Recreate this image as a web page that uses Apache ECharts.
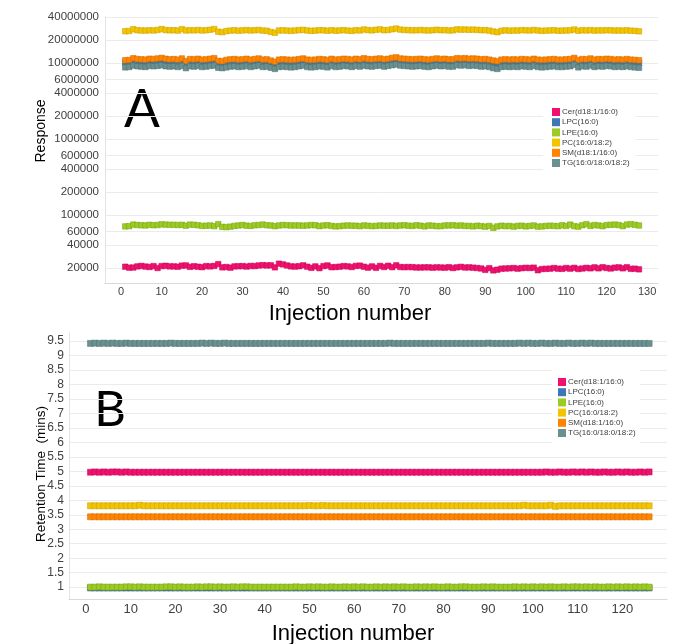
<!DOCTYPE html>
<html>
<head>
<meta charset="utf-8">
<script src="https://cdn.jsdelivr.net/npm/echarts@6/dist/echarts.min.js"></script>
<style>html,body{margin:0;padding:0;background:#fff}#c{width:680px;height:644px}</style>
</head>
<body>
<div id="c"></div>
<script>
// ---------- DATA ----------
var seriesNames = ['Cer(d18:1/16:0)', 'LPC(16:0)', 'LPE(16:0)', 'PC(16:0/18:2)', 'SM(d18:1/16:0)', 'TG(16:0/18:0/18:2)'];

// Panel A: response (log scale), injections 1..128
var respCer = [20800,20200,20300,21000,21300,20900,20600,21200,20000,21200,
21400,21000,21000,20800,21500,21600,20700,21100,20800,20500,
21200,21000,21300,22500,20400,20600,20200,21000,21100,21200,
20900,21300,21200,21600,21800,21600,21700,20400,22800,22300,
21600,21000,20900,21100,21700,20800,20100,21000,19900,21200,
21600,20500,20600,20800,21200,21000,20600,21300,21500,20800,
20200,21000,20100,21300,20600,21400,20500,21700,20600,20500,
20600,20500,20300,20300,20400,20400,20200,20400,20300,20200,
20500,20000,20400,20700,20300,20400,20200,20000,19700,18900,
19900,18600,19000,19600,19700,19800,20000,19600,19900,20100,
20000,20200,18700,19400,19500,19600,20000,19600,19500,20000,
19600,20100,19400,19700,20100,19800,20400,19800,20500,20000,
19700,20200,20400,19800,20500,19500,19600,19200];
var respLPC = [10.0e6,10.1e6,10.6e6,10.3e6,10.2e6,10.1e6,10.4e6,10.3e6,10.5e6,10.7e6,
10.4e6,10.2e6,10.3e6,10.1e6,10.5e6,9.7e6,10.3e6,10.2e6,10.4e6,10.1e6,
10.2e6,10.4e6,10.6e6,9.8e6,9.7e6,10.0e6,10.2e6,10.3e6,10.1e6,10.2e6,
10.4e6,10.1e6,10.3e6,10.5e6,10.1e6,10.2e6,9.9e6,9.5e6,10.1e6,10.2e6,
10.1e6,10.0e6,10.1e6,10.3e6,10.5e6,10.1e6,10.0e6,10.1e6,10.3e6,10.2e6,
10.0e6,10.4e6,10.1e6,10.2e6,10.4e6,10.3e6,10.1e6,10.4e6,10.2e6,10.6e6,
10.3e6,10.2e6,10.4e6,10.5e6,10.2e6,10.4e6,10.7e6,10.9e6,10.5e6,10.4e6,
10.3e6,10.2e6,10.3e6,10.4e6,10.2e6,10.1e6,10.3e6,10.5e6,10.3e6,10.4e6,
10.2e6,10.2e6,10.6e6,10.5e6,10.6e6,10.4e6,10.5e6,10.4e6,10.2e6,10.3e6,
10.1e6,9.8e6,9.6e6,10.1e6,10.2e6,10.1e6,10.2e6,10.1e6,10.3e6,10.2e6,
10.1e6,10.4e6,10.1e6,10.0e6,10.1e6,10.2e6,10.3e6,10.1e6,10.1e6,10.2e6,
10.3e6,10.7e6,10.0e6,10.3e6,10.2e6,10.5e6,10.1e6,10.3e6,10.2e6,10.4e6,
10.3e6,10.1e6,10.2e6,10.1e6,10.3e6,10.1e6,10.0e6,9.9e6];
var respLPE = [70500,71000,74500,73500,73000,72500,74000,73000,73500,75000,
74500,74000,74000,73500,74000,72000,74500,74000,73000,71500,
72000,72500,71000,75500,69500,69000,70000,71500,72500,73500,
72000,71500,73000,73500,74500,73000,72500,71000,72500,73500,
73000,72500,72500,72500,72000,72500,73500,73000,71000,72500,
73000,71500,70500,71000,72000,72500,72000,72000,71000,72500,
72000,71000,71500,72500,72000,72000,72500,71500,72500,73000,
72000,71500,73000,72000,70500,72500,72000,71000,71000,72500,
72500,73000,72000,72500,71500,71500,70500,72000,71000,70000,
71500,67500,70500,72000,71000,71500,70000,71500,72000,70500,
71500,72500,70000,70500,71500,72000,71500,71000,73000,71500,
74500,71000,70000,73000,75500,71500,73500,72500,71000,73500,
74000,74500,73500,71000,74500,75500,74000,72500];
var respPC = [26.0e6,26.2e6,27.6e6,26.8e6,26.6e6,26.5e6,26.8e6,26.6e6,27.0e6,27.8e6,
26.9e6,26.7e6,26.8e6,26.5e6,27.7e6,26.6e6,26.8e6,26.7e6,27.0e6,26.6e6,
26.8e6,27.2e6,27.8e6,25.6e6,25.3e6,26.1e6,26.5e6,26.8e6,26.4e6,26.7e6,
26.9e6,26.6e6,26.8e6,27.0e6,26.5e6,26.4e6,25.4e6,24.8e6,26.6e6,26.7e6,
26.5e6,26.3e6,26.6e6,26.9e6,27.1e6,26.6e6,26.3e6,26.5e6,26.8e6,26.7e6,
26.4e6,26.8e6,26.4e6,26.6e6,26.9e6,26.5e6,26.3e6,26.8e6,26.6e6,27.4e6,
26.9e6,26.7e6,27.2e6,27.5e6,26.8e6,27.0e6,27.6e6,28.2e6,27.3e6,27.0e6,
26.9e6,26.7e6,26.8e6,27.0e6,26.7e6,26.6e6,26.8e6,27.2e6,26.8e6,26.9e6,
26.6e6,26.7e6,27.5e6,27.3e6,27.4e6,27.2e6,27.3e6,27.1e6,26.8e6,26.9e6,
26.5e6,25.8e6,25.2e6,26.4e6,26.7e6,26.4e6,26.6e6,26.5e6,26.9e6,26.7e6,
26.6e6,27.0e6,26.6e6,26.3e6,26.5e6,26.6e6,26.8e6,26.4e6,26.5e6,26.6e6,
26.7e6,27.4e6,26.4e6,26.8e6,26.6e6,26.9e6,26.5e6,26.7e6,26.6e6,26.8e6,
26.7e6,26.5e6,26.6e6,26.5e6,26.7e6,26.4e6,26.3e6,25.9e6];
var respSM = [10.8e6,10.9e6,11.5e6,11.2e6,11.1e6,11.0e6,11.3e6,11.2e6,11.4e6,11.6e6,
11.3e6,11.1e6,11.2e6,11.0e6,11.4e6,10.5e6,11.2e6,11.1e6,11.3e6,11.0e6,
11.1e6,11.3e6,11.5e6,10.6e6,10.5e6,10.9e6,11.1e6,11.2e6,11.0e6,11.1e6,
11.3e6,11.0e6,11.2e6,11.4e6,11.0e6,11.1e6,10.7e6,10.3e6,11.0e6,11.1e6,
11.0e6,10.9e6,11.0e6,11.2e6,11.4e6,11.0e6,10.9e6,11.0e6,11.2e6,11.1e6,
10.9e6,11.3e6,11.0e6,11.1e6,11.3e6,11.2e6,11.0e6,11.3e6,11.1e6,11.5e6,
11.2e6,11.1e6,11.3e6,11.4e6,11.1e6,11.3e6,11.6e6,11.8e6,11.4e6,11.3e6,
11.2e6,11.1e6,11.2e6,11.3e6,11.1e6,11.0e6,11.2e6,11.4e6,11.2e6,11.3e6,
11.1e6,11.1e6,11.5e6,11.4e6,11.5e6,11.3e6,11.4e6,11.3e6,11.1e6,11.2e6,
11.0e6,10.7e6,10.5e6,11.0e6,11.1e6,11.0e6,11.1e6,11.0e6,11.2e6,11.1e6,
11.0e6,11.3e6,11.0e6,10.9e6,11.0e6,11.1e6,11.2e6,11.0e6,11.0e6,11.1e6,
11.2e6,11.6e6,10.9e6,11.2e6,11.1e6,11.4e6,11.0e6,11.2e6,11.1e6,11.3e6,
11.2e6,11.0e6,11.1e6,11.0e6,11.2e6,11.0e6,10.9e6,10.8e6];
var respTG = [8.7e6,8.8e6,9.2e6,9.0e6,8.9e6,8.8e6,9.1e6,9.0e6,9.1e6,9.3e6,
9.0e6,8.9e6,9.0e6,8.8e6,9.1e6,8.5e6,9.0e6,8.9e6,9.1e6,8.8e6,
8.9e6,9.1e6,9.2e6,8.6e6,8.5e6,8.7e6,8.9e6,9.0e6,8.8e6,8.9e6,
9.1e6,8.8e6,9.0e6,9.2e6,8.8e6,8.9e6,8.6e6,8.3e6,8.8e6,8.9e6,
8.8e6,8.7e6,8.8e6,9.0e6,9.2e6,8.8e6,8.7e6,8.8e6,9.0e6,8.9e6,
8.7e6,9.1e6,8.8e6,8.9e6,9.1e6,9.0e6,8.8e6,9.1e6,8.9e6,9.2e6,
9.0e6,8.9e6,9.1e6,9.2e6,8.9e6,9.1e6,9.3e6,9.5e6,9.2e6,9.1e6,
9.0e6,8.9e6,9.0e6,9.1e6,8.9e6,8.8e6,9.0e6,9.2e6,9.0e6,9.1e6,
8.9e6,8.9e6,9.3e6,9.2e6,9.3e6,9.1e6,9.2e6,9.1e6,8.9e6,9.0e6,
8.8e6,8.5e6,8.3e6,8.8e6,8.9e6,8.8e6,8.9e6,8.8e6,9.0e6,8.9e6,
8.8e6,9.1e6,8.8e6,8.7e6,8.8e6,8.9e6,9.0e6,8.8e6,8.8e6,8.9e6,
9.0e6,9.4e6,8.7e6,9.0e6,8.9e6,9.2e6,8.8e6,9.0e6,8.9e6,9.1e6,
9.0e6,8.8e6,8.9e6,8.8e6,9.0e6,8.8e6,8.7e6,8.6e6];

// Panel B: retention time (mins), injections 1..126
var rtCer = [4.97,4.98,4.97,4.98,4.97,4.98,4.98,4.97,4.98,4.97,
4.97,4.97,4.97,4.97,4.97,4.97,4.97,4.97,4.97,4.97,
4.97,4.97,4.97,4.97,4.97,4.97,4.97,4.97,4.97,4.97,
4.97,4.97,4.97,4.97,4.97,4.97,4.97,4.97,4.97,4.97,
4.97,4.97,4.97,4.97,4.97,4.97,4.97,4.97,4.97,4.97,
4.97,4.97,4.97,4.97,4.97,4.97,4.97,4.97,4.97,4.97,
4.97,4.97,4.97,4.97,4.97,4.97,4.97,4.97,4.97,4.97,
4.97,4.97,4.97,4.97,4.97,4.97,4.97,4.97,4.97,4.97,
4.97,4.97,4.97,4.97,4.97,4.97,4.97,4.97,4.97,4.97,
4.97,4.97,4.97,4.97,4.97,4.97,4.97,4.97,4.97,4.97,
4.97,4.97,4.98,4.97,4.97,4.98,4.97,4.97,4.98,4.97,
4.98,4.97,4.98,4.97,4.97,4.98,4.97,4.97,4.98,4.97,
4.98,4.97,4.97,4.98,4.97,4.98];
var rtLPC = [0.97,0.97,0.97,0.97,0.97,0.97,0.97,0.97,0.97,0.97,
0.97,0.97,0.97,0.97,0.97,0.97,0.97,0.97,0.97,0.97,
0.97,0.97,0.97,0.97,0.97,0.97,0.97,0.97,0.97,0.97,
0.97,0.97,0.97,0.97,0.97,0.97,0.97,0.97,0.97,0.97,
0.97,0.97,0.97,0.97,0.97,0.97,0.97,0.97,0.97,0.97,
0.97,0.97,0.97,0.97,0.97,0.97,0.97,0.97,0.97,0.97,
0.97,0.97,0.97,0.97,0.97,0.97,0.97,0.97,0.97,0.97,
0.97,0.97,0.97,0.97,0.97,0.97,0.97,0.97,0.97,0.97,
0.97,0.97,0.97,0.97,0.97,0.97,0.97,0.97,0.97,0.97,
0.97,0.97,0.97,0.97,0.97,0.97,0.97,0.97,0.97,0.97,
0.97,0.97,0.97,0.97,0.97,0.97,0.97,0.97,0.97,0.97,
0.97,0.97,0.97,0.97,0.97,0.97,0.97,0.97,0.97,0.97,
0.97,0.97,0.97,0.97,0.97,0.97];
var rtLPE = [1.00,1.00,1.01,1.00,1.00,1.00,1.00,1.00,1.01,1.01,
1.00,1.01,1.00,1.00,1.00,1.00,1.00,1.01,1.01,1.00,
1.01,1.00,1.00,1.00,1.01,1.00,1.01,1.01,1.00,1.01,
1.00,1.00,1.01,1.00,1.01,1.01,1.00,1.00,1.00,1.00,
1.00,1.00,1.00,1.00,1.00,1.00,1.01,1.00,1.00,1.01,
1.00,1.01,1.00,1.00,1.01,1.00,1.00,1.01,1.00,1.01,
1.00,1.01,1.00,1.00,1.01,1.00,1.01,1.00,1.01,1.00,
1.01,1.00,1.00,1.01,1.00,1.01,1.00,1.01,1.00,1.00,
1.01,1.00,1.00,1.01,1.01,1.00,1.00,1.00,1.01,1.00,
1.01,1.00,1.00,1.00,1.00,1.01,1.00,1.01,1.00,1.01,
1.00,1.01,1.00,1.01,1.00,1.00,1.01,1.00,1.01,1.01,
1.00,1.01,1.00,1.01,1.00,1.00,1.01,1.00,1.01,1.00,
1.01,1.00,1.01,1.00,1.01,1.00];
var rtPC = [3.81,3.81,3.81,3.81,3.81,3.81,3.81,3.81,3.81,3.81,
3.81,3.83,3.81,3.81,3.81,3.81,3.81,3.81,3.81,3.81,
3.81,3.81,3.81,3.81,3.81,3.81,3.81,3.81,3.81,3.81,
3.81,3.81,3.81,3.81,3.81,3.81,3.81,3.81,3.81,3.81,
3.81,3.81,3.81,3.81,3.81,3.81,3.81,3.81,3.81,3.82,
3.81,3.81,3.82,3.81,3.81,3.81,3.81,3.81,3.81,3.81,
3.81,3.81,3.81,3.81,3.81,3.81,3.81,3.81,3.81,3.81,
3.81,3.81,3.81,3.81,3.81,3.81,3.81,3.81,3.81,3.81,
3.81,3.81,3.81,3.81,3.81,3.81,3.81,3.81,3.81,3.81,
3.81,3.81,3.81,3.81,3.81,3.81,3.81,3.83,3.81,3.81,
3.81,3.81,3.81,3.83,3.79,3.81,3.81,3.81,3.81,3.81,
3.81,3.81,3.81,3.81,3.81,3.81,3.81,3.81,3.81,3.81,
3.81,3.81,3.81,3.81,3.81,3.81];
var rtSM = [3.43,3.43,3.43,3.43,3.43,3.43,3.43,3.43,3.43,3.43,
3.43,3.43,3.43,3.43,3.43,3.43,3.43,3.43,3.43,3.43,
3.43,3.43,3.43,3.43,3.43,3.43,3.43,3.43,3.43,3.43,
3.43,3.43,3.43,3.43,3.43,3.43,3.43,3.43,3.43,3.43,
3.43,3.43,3.43,3.43,3.43,3.43,3.43,3.43,3.43,3.43,
3.43,3.43,3.43,3.43,3.43,3.43,3.43,3.43,3.43,3.43,
3.43,3.43,3.43,3.43,3.43,3.43,3.43,3.43,3.43,3.43,
3.43,3.43,3.43,3.43,3.43,3.43,3.43,3.43,3.43,3.43,
3.43,3.43,3.43,3.43,3.43,3.43,3.43,3.43,3.43,3.43,
3.43,3.43,3.43,3.43,3.43,3.43,3.43,3.43,3.43,3.43,
3.43,3.43,3.43,3.43,3.43,3.43,3.43,3.43,3.43,3.43,
3.43,3.43,3.43,3.43,3.43,3.43,3.43,3.43,3.43,3.43,
3.43,3.43,3.43,3.43,3.43,3.43];
var rtTG = [9.42,9.43,9.42,9.43,9.42,9.43,9.42,9.42,9.43,9.42,
9.42,9.42,9.42,9.42,9.42,9.42,9.42,9.42,9.43,9.42,
9.42,9.42,9.42,9.42,9.42,9.43,9.42,9.43,9.42,9.42,
9.43,9.42,9.42,9.42,9.42,9.42,9.42,9.42,9.42,9.42,
9.42,9.42,9.42,9.42,9.42,9.42,9.42,9.42,9.42,9.42,
9.42,9.42,9.42,9.42,9.42,9.42,9.42,9.42,9.42,9.42,
9.42,9.42,9.42,9.42,9.42,9.42,9.42,9.43,9.42,9.42,
9.42,9.42,9.42,9.42,9.42,9.42,9.42,9.42,9.42,9.42,
9.42,9.42,9.42,9.42,9.42,9.42,9.42,9.42,9.42,9.43,
9.42,9.42,9.42,9.42,9.42,9.42,9.43,9.42,9.43,9.42,
9.42,9.43,9.42,9.42,9.43,9.42,9.42,9.43,9.42,9.42,
9.43,9.42,9.43,9.42,9.42,9.42,9.42,9.42,9.42,9.42,
9.42,9.42,9.42,9.42,9.42,9.42];

// Tick labels
var ticksA_y = [20000, 40000, 60000, 100000, 200000, 400000, 600000, 1000000, 2000000, 4000000, 6000000, 10000000, 20000000, 40000000];
var ticksA_x = [0, 10, 20, 30, 40, 50, 60, 70, 80, 90, 100, 110, 120, 130];
var ticksB_y = [1, 1.5, 2, 2.5, 3, 3.5, 4, 4.5, 5, 5.5, 6, 6.5, 7, 7.5, 8, 8.5, 9, 9.5];
var ticksB_x = [0, 10, 20, 30, 40, 50, 60, 70, 80, 90, 100, 110, 120];

// ---------- CHART ----------
var colors = ['#F0106E', '#3E78B4', '#9BCB24', '#F2C500', '#FF8400', '#6A9090'];
var borders = ['#C00A55', '#2E5C8C', '#78A010', '#C89E00', '#D06A00', '#4F7070'];

function pairs(arr) { return arr.map(function (v, i) { return [i + 1, v]; }); }

var dataA = [respCer, respLPC, respLPE, respPC, respSM, respTG];
var dataB = [rtCer, rtLPC, rtLPE, rtPC, rtSM, rtTG];

var series = [];
dataA.forEach(function (arr, k) {
  series.push({
    name: seriesNames[k], type: 'line', xAxisIndex: 0, yAxisIndex: 0,
    data: pairs(arr), symbol: 'rect', symbolSize: 5.5, showSymbol: true,
    lineStyle: { color: colors[k], width: 1 },
    itemStyle: { color: colors[k], borderColor: borders[k], borderWidth: 0.5 },
    emphasis: { disabled: true }, animation: false
  });
});
dataB.forEach(function (arr, k) {
  series.push({
    name: seriesNames[k], type: 'line', xAxisIndex: 1, yAxisIndex: 1,
    data: pairs(arr), symbol: 'rect', symbolSize: 6, showSymbol: true,
    lineStyle: { color: colors[k], width: 1 },
    itemStyle: { color: colors[k], borderColor: borders[k], borderWidth: 0.5 },
    emphasis: { disabled: true }, animation: false
  });
});

var labelColor = '#404040';
var gridLine = { show: true, lineStyle: { color: '#ebebeb', width: 1 } };
var xAxisLineCfg = { show: true, onZero: false, lineStyle: { color: '#d9d9d9', width: 1 } };
var yAxisLineCfg = { show: true, onZero: false, lineStyle: { color: '#e3e3e3', width: 1 } };

function legendCfg(left, top, pad) {
  return {
    orient: 'vertical', left: left, top: top, padding: pad,
    itemWidth: 8, itemHeight: 8, itemGap: 2.2, icon: 'rect',
    backgroundColor: '#ffffff',
    textStyle: { fontSize: 8, color: '#404040', fontFamily: 'Liberation Sans, Arial, sans-serif', lineHeight: 8, padding: [0, 0, 0, -3] },
    data: seriesNames.map(function (n, k) { return { name: n, itemStyle: { color: colors[k], borderWidth: 0 } }; })
  };
}

var option = {
  animation: false,
  backgroundColor: '#ffffff',
  textStyle: { fontFamily: 'Liberation Sans, Arial, sans-serif' },
  color: colors,
  grid: [
    { left: 105, top: 17, width: 553, height: 266 },
    { left: 69, top: 333, width: 598, height: 266 }
  ],
  xAxis: [
    { type: 'value', gridIndex: 0, min: -4, max: 132.7,
      axisLine: xAxisLineCfg, axisTick: { show: false, customValues: ticksA_x },
      splitLine: { show: false },
      axisLabel: { customValues: ticksA_x, fontSize: 11, color: labelColor, margin: 3 } },
    { type: 'value', gridIndex: 1, min: -3.8, max: 130,
      axisLine: xAxisLineCfg, axisTick: { show: false, customValues: ticksB_x },
      splitLine: { show: false },
      axisLabel: { customValues: ticksB_x, fontSize: 13, color: labelColor, margin: 4 } }
  ],
  yAxis: [
    { type: 'log', logBase: 10, gridIndex: 0, min: 12700, max: 40000000,
      axisLine: yAxisLineCfg, axisTick: { show: false, customValues: ticksA_y },
      splitLine: gridLine,
      axisLabel: { customValues: ticksA_y, fontSize: 11.5, color: labelColor, margin: 6,
        formatter: function (v) { return String(Math.round(v)); } } },
    { type: 'value', gridIndex: 1, min: 0.59, max: 9.78,
      axisLine: yAxisLineCfg, axisTick: { show: false, customValues: ticksB_y },
      splitLine: gridLine,
      axisLabel: { customValues: ticksB_y, fontSize: 12, color: labelColor, margin: 5,
        formatter: function (v) { return String(Math.round(v * 10) / 10); } } }
  ],
  legend: [
    legendCfg(543, 100, [8, 6, 8, 9]),
    legendCfg(552, 370, [8, 4, 8, 6])
  ],
  graphic: [
    { type: 'text', x: 142, y: 110, style: { text: 'A', fontSize: 53, fontFamily: 'Lato, Open Sans, sans-serif', fill: '#000', textAlign: 'center', textVerticalAlign: 'middle' } },
    { type: 'text', x: 110, y: 410, style: { text: 'B', fontSize: 49, fontFamily: 'Lato, Open Sans, sans-serif', fill: '#000', textAlign: 'center', textVerticalAlign: 'middle' } },
    { type: 'text', x: 41, y: 131, rotation: Math.PI / 2, style: { text: 'Response', fontSize: 14, fontFamily: 'Liberation Sans, Arial, sans-serif', fill: '#000', textAlign: 'center', textVerticalAlign: 'middle' } },
    { type: 'text', x: 41, y: 474, rotation: Math.PI / 2, style: { text: 'Retention Time  (mins)', fontSize: 13.5, fontFamily: 'Liberation Sans, Arial, sans-serif', fill: '#000', textAlign: 'center', textVerticalAlign: 'middle' } },
    { type: 'text', x: 350, y: 314, style: { text: 'Injection number', fontSize: 22, fontFamily: 'Liberation Sans, Arial, sans-serif', fill: '#000', textAlign: 'center', textVerticalAlign: 'middle' } },
    { type: 'text', x: 353, y: 634, style: { text: 'Injection number', fontSize: 22, fontFamily: 'Liberation Sans, Arial, sans-serif', fill: '#000', textAlign: 'center', textVerticalAlign: 'middle' } }
  ],
  series: series
};

var chart = echarts.init(document.getElementById('c'), null, { renderer: 'canvas' });
chart.setOption(option);
</script>
</body>
</html>
